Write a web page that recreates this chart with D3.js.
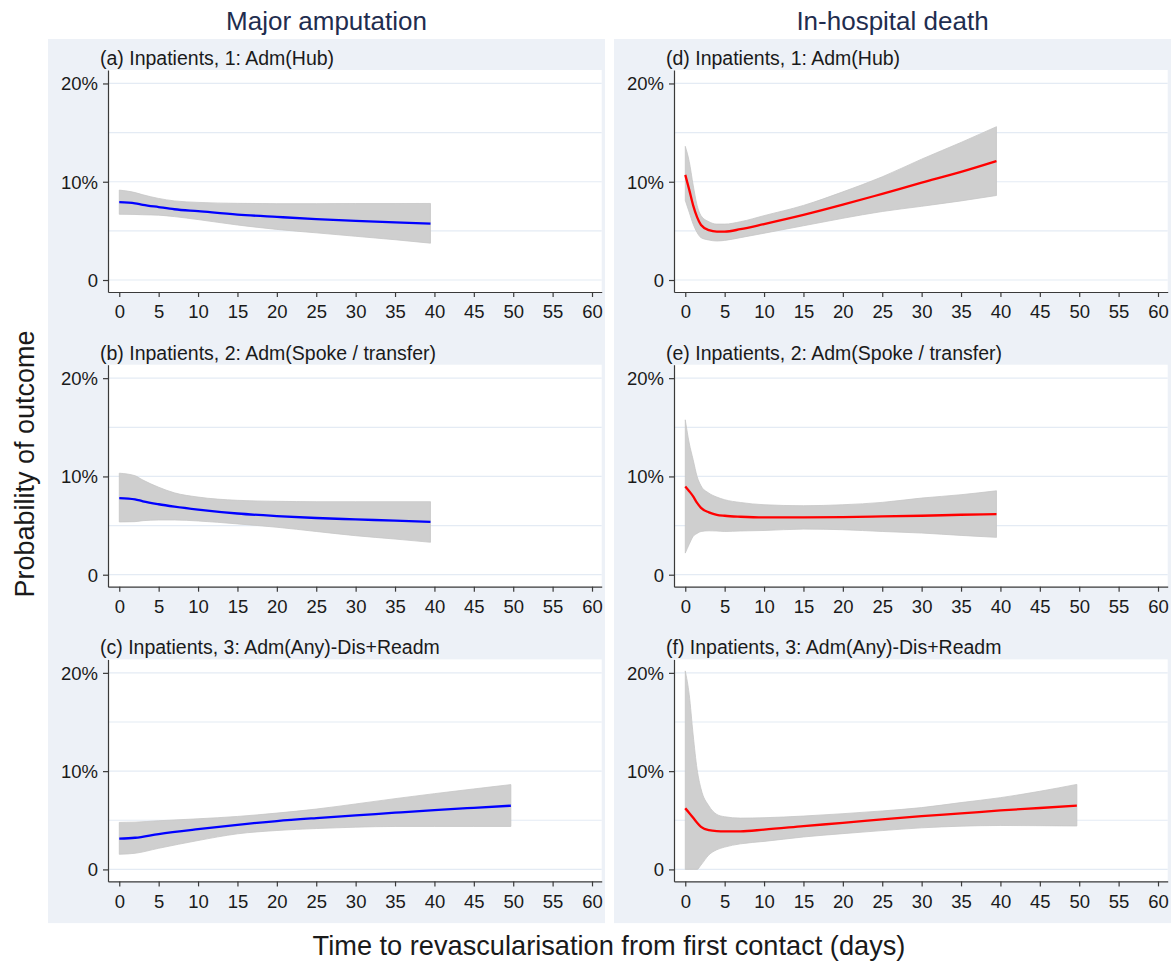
<!DOCTYPE html>
<html>
<head>
<meta charset="utf-8">
<script src="https://cdn.jsdelivr.net/npm/d3@7"></script>
<style>
  body { margin: 0; background: #fff; }
  svg { display: block; font-family: "Liberation Sans", Arial, sans-serif; }
</style>
</head>
<body>
<svg id="chart" width="1175" height="964"></svg>
<script>
// ---- data (probability in %) ----
const columnTitles = ["Major amputation", "In-hospital death"];
const panelTitles = [
  "(a) Inpatients, 1: Adm(Hub)",
  "(b) Inpatients, 2: Adm(Spoke / transfer)",
  "(c) Inpatients, 3: Adm(Any)-Dis+Readm",
  "(d) Inpatients, 1: Adm(Hub)",
  "(e) Inpatients, 2: Adm(Spoke / transfer)",
  "(f) Inpatients, 3: Adm(Any)-Dis+Readm"
];
const xTicks = [0, 5, 10, 15, 20, 25, 30, 35, 40, 45, 50, 55, 60];
const yTicks = [0, 10, 20];
const yTickLabels = ["0", "10%", "20%"];
const yGrid = [0, 5, 10, 15, 20];

// major amputation
const ampX12 = [0, 2, 3, 5, 7, 10, 15, 20, 25, 30, 35, 39.5];
const ampHubFit = [7.92, 7.8, 7.65, 7.42, 7.2, 7.0, 6.66, 6.42, 6.2, 6.02, 5.87, 5.74];
const ampHubHi  = [9.15, 8.9, 8.67, 8.3, 8.05, 7.9, 7.8, 7.77, 7.77, 7.78, 7.78, 7.79];
const ampHubLo  = [6.69, 6.67, 6.64, 6.6, 6.45, 6.15, 5.6, 5.15, 4.8, 4.45, 4.1, 3.75];

const ampSpokeFit = [7.8, 7.67, 7.47, 7.17, 6.93, 6.63, 6.23, 5.97, 5.77, 5.63, 5.5, 5.37];
const ampSpokeHi  = [10.33, 10.07, 9.63, 8.9, 8.33, 7.9, 7.57, 7.47, 7.43, 7.43, 7.43, 7.43];
const ampSpokeLo  = [5.37, 5.4, 5.5, 5.57, 5.57, 5.47, 5.17, 4.83, 4.4, 3.97, 3.63, 3.3];

const ampX3 = [0, 2, 5, 10, 15, 20, 25, 30, 35, 40, 45, 49.7];
const ampReadmFit = [3.14, 3.22, 3.6, 4.1, 4.54, 4.92, 5.22, 5.49, 5.77, 6.04, 6.27, 6.48];
const ampReadmHi  = [4.78, 4.81, 4.95, 5.15, 5.39, 5.73, 6.14, 6.66, 7.2, 7.71, 8.19, 8.63];
const ampReadmLo  = [1.54, 1.64, 2.15, 2.94, 3.62, 3.96, 4.16, 4.3, 4.37, 4.37, 4.37, 4.37];

// in-hospital death
const deathX12 = [0, 0.5, 1, 1.5, 2, 3, 4, 5, 7, 10, 15, 20, 25, 30, 35, 39.5];
const deathHubFit = [10.7, 9.2, 7.6, 6.4, 5.6, 5.07, 4.93, 4.93, 5.17, 5.69, 6.62, 7.66, 8.77, 9.9, 11.0, 12.1];
const deathHubHi  = [13.6, 12.07, 9.66, 7.6, 6.55, 5.93, 5.69, 5.69, 5.93, 6.55, 7.59, 8.97, 10.5, 12.3, 14.0, 15.6];
const deathHubLo  = [8.1, 6.9, 5.69, 4.83, 4.31, 4.07, 3.97, 4.03, 4.31, 4.76, 5.52, 6.28, 6.97, 7.5, 8.05, 8.6];

const deathSpokeFit = [8.98, 8.5, 7.97, 7.3, 6.8, 6.34, 6.1, 6.0, 5.9, 5.83, 5.83, 5.86, 5.93, 6.0, 6.1, 6.17];
const deathSpokeHi  = [15.76, 13.4, 11.7, 10.0, 9.05, 8.3, 7.9, 7.63, 7.35, 7.12, 7.02, 7.12, 7.36, 7.8, 8.14, 8.54];
const deathSpokeLo  = [2.2, 3.1, 3.9, 4.2, 4.4, 4.47, 4.45, 4.4, 4.45, 4.5, 4.64, 4.58, 4.4, 4.24, 4.0, 3.8];

const deathX3 = [0, 0.5, 1, 1.5, 2, 3, 4, 5, 7, 10, 15, 20, 25, 30, 35, 40, 45, 49.7];
const deathReadmFit = [6.22, 5.75, 5.26, 4.75, 4.33, 3.99, 3.9, 3.88, 3.88, 4.05, 4.4, 4.74, 5.09, 5.43, 5.7, 6.0, 6.25, 6.5];
const deathReadmHi  = [20.2, 17.8, 13.7, 10.2, 8.2, 6.46, 5.6, 5.36, 5.22, 5.26, 5.43, 5.67, 5.95, 6.29, 6.8, 7.3, 7.95, 8.65];
const deathReadmLo  = [0, 0, 0, 0, 0.45, 1.48, 2.0, 2.27, 2.6, 2.85, 3.3, 3.64, 3.95, 4.23, 4.4, 4.47, 4.45, 4.42];

const panels = [
  {col: 0, row: 0, xs: ampX12, fit: ampHubFit, lo: ampHubLo, hi: ampHubHi, color: "#0000ff"},
  {col: 0, row: 1, xs: ampX12, fit: ampSpokeFit, lo: ampSpokeLo, hi: ampSpokeHi, color: "#0000ff"},
  {col: 0, row: 2, xs: ampX3, fit: ampReadmFit, lo: ampReadmLo, hi: ampReadmHi, color: "#0000ff"},
  {col: 1, row: 0, xs: deathX12, fit: deathHubFit, lo: deathHubLo, hi: deathHubHi, color: "#ff0000"},
  {col: 1, row: 1, xs: deathX12, fit: deathSpokeFit, lo: deathSpokeLo, hi: deathSpokeHi, color: "#ff0000"},
  {col: 1, row: 2, xs: deathX3, fit: deathReadmFit, lo: deathReadmLo, hi: deathReadmHi, color: "#ff0000"}
];
panels.forEach((p, i) => p.title = panelTitles[i]);

// ---- layout ----
const svg = d3.select("#chart");
const colX = [48, 614], colW = 557;
const panelTop = 39, rowH = 294.7;
const bg = "#edf1f7", gridCol = "#e4ebf4", axisCol = "#3a3a3a", textCol = "#1a1a1a";

colX.forEach((x, i) => {
  svg.append("rect").attr("x", x).attr("y", panelTop).attr("width", colW).attr("height", rowH * 3)
    .attr("fill", bg);
  svg.append("text").attr("x", x + colW / 2).attr("y", 21)
    .attr("text-anchor", "middle").attr("dominant-baseline", "central")
    .attr("font-size", 26).attr("fill", "#1f2d4f").text(columnTitles[i]);
});

svg.append("text")
  .attr("transform", "translate(25,464) rotate(-90)")
  .attr("text-anchor", "middle").attr("dominant-baseline", "central")
  .attr("font-size", 27).attr("fill", textCol).text("Probability of outcome");

svg.append("text").attr("x", 609).attr("y", 945)
  .attr("text-anchor", "middle").attr("dominant-baseline", "central")
  .attr("font-size", 27.2).attr("fill", textCol)
  .text("Time to revascularisation from first contact (days)");

panels.forEach(p => {
  const ox = colX[p.col], T = panelTop + p.row * rowH;
  const x0 = ox + 60, x1 = ox + 553.7, yTop = T + 31, yBot = T + 253;
  const x = d3.scaleLinear().domain([-1.43, 61.23]).range([x0, x1]);
  const y = d3.scaleLinear().domain([-1.22, 21.37]).range([yBot, yTop]);
  const g = svg.append("g");

  g.append("text").attr("x", ox + 52).attr("y", T + 19)
    .attr("dominant-baseline", "central").attr("font-size", 19.5)
    .attr("fill", textCol).text(p.title);

  g.append("rect").attr("x", x0).attr("y", yTop).attr("width", x1 - x0).attr("height", yBot - yTop)
    .attr("fill", "#fff");

  g.selectAll(".grid").data(yGrid).join("line")
    .attr("x1", x0).attr("x2", x1)
    .attr("y1", d => y(d)).attr("y2", d => y(d))
    .attr("stroke", gridCol).attr("stroke-width", 1.2);

  const rows = p.xs.map((v, i) => ({x: v, fit: p.fit[i], lo: p.lo[i], hi: p.hi[i]}));
  g.append("path").datum(rows)
    .attr("d", d3.area().curve(d3.curveMonotoneX).x(d => x(d.x)).y0(d => y(d.lo)).y1(d => y(d.hi)))
    .attr("fill", "#cfcfcf").attr("stroke", "#c6c6c6").attr("stroke-width", 0.8);
  g.append("path").datum(rows)
    .attr("d", d3.line().curve(d3.curveMonotoneX).x(d => x(d.x)).y(d => y(d.fit)))
    .attr("fill", "none").attr("stroke", p.color).attr("stroke-width", 2.3);

  const xa = g.append("g").attr("transform", `translate(0,${yBot})`)
    .call(d3.axisBottom(x).tickValues(xTicks).tickSize(5).tickPadding(8).tickSizeOuter(0));
  const ya = g.append("g").attr("transform", `translate(${x0},0)`)
    .call(d3.axisLeft(y).tickValues(yTicks).tickFormat((d, i) => yTickLabels[i]).tickSize(5).tickPadding(5).tickSizeOuter(0));
  [xa, ya].forEach(a => {
    a.select(".domain").attr("stroke", axisCol).attr("stroke-width", 1.2);
    a.selectAll(".tick line").attr("stroke", axisCol).attr("stroke-width", 1.2);
    a.selectAll(".tick text").attr("font-size", 18.5).attr("fill", textCol)
      .attr("font-family", "Liberation Sans, Arial, sans-serif");
  });
  ya.selectAll(".tick text").attr("dy", "0.35em");
});
</script>
</body>
</html>
